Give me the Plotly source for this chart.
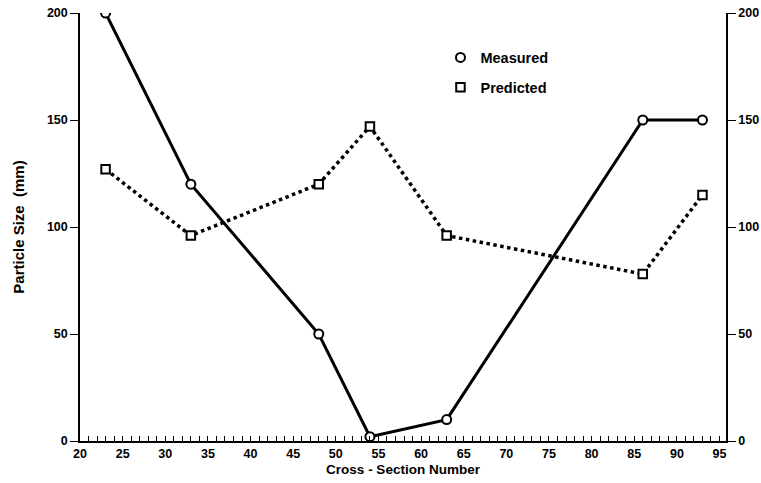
import plotly.graph_objects as go

cross_section = [23, 33, 48, 54, 63, 86, 93]
measured = [200, 120, 50, 2, 10, 150, 150]
predicted = [127, 96, 120, 147, 96, 78, 115]

x_ticks = list(range(20, 100, 5))
y_ticks = [0, 50, 100, 150, 200]

FONT = "Liberation Sans, Arial, sans-serif"
BLACK = "#000000"
TICKFONT = dict(size=12.5, family=FONT, weight="bold", color=BLACK)

fig = go.Figure()

# lines
fig.add_trace(go.Scatter(x=cross_section, y=measured, mode="lines",
                         line=dict(color=BLACK, width=3), showlegend=False, hoverinfo="skip"))
fig.add_trace(go.Scatter(x=cross_section, y=predicted, mode="lines",
                         line=dict(color=BLACK, width=3.5, dash="dot"), showlegend=False, hoverinfo="skip"))
# markers
fig.add_trace(go.Scatter(x=cross_section, y=measured, mode="markers", name="Measured",
                         legendgroup="m",
                         marker=dict(symbol="circle", size=9, color="white",
                                     line=dict(color=BLACK, width=2))))
fig.add_trace(go.Scatter(x=cross_section, y=predicted, mode="markers", name="Predicted",
                         legendgroup="p",
                         marker=dict(symbol="square", size=8.5, color="white",
                                     line=dict(color=BLACK, width=2))))
# invisible trace for right axis
fig.add_trace(go.Scatter(x=cross_section, y=measured, yaxis="y2", mode="markers",
                         marker=dict(opacity=0), showlegend=False, hoverinfo="skip"))

fig.update_layout(
    width=761, height=483,
    margin=dict(l=80, r=34.5, t=13, b=42),
    paper_bgcolor="white", plot_bgcolor="white",
    font=dict(family=FONT, color=BLACK, size=12, weight="bold"),
    xaxis=dict(range=[20, 95.76], tickvals=x_ticks, ticks="inside", ticklen=5,
               tickwidth=1, tickcolor=BLACK, automargin=False,
               minor=dict(dtick=1, ticks="inside", ticklen=5, tickcolor=BLACK, tickwidth=1),
               showline=True, linecolor=BLACK, linewidth=1.5, showgrid=False, zeroline=False,
               tickfont=TICKFONT,
               title=dict(text="Cross - Section Number",
                          font=dict(size=13.5, family=FONT, weight="bold", color=BLACK), standoff=5)),
    yaxis=dict(range=[0, 200], tickvals=y_ticks, ticks="outside", ticklen=8, tickcolor=BLACK,
               automargin=False,
               showline=True, linecolor=BLACK, linewidth=1.5, showgrid=False, zeroline=False,
               tickfont=TICKFONT,
               title=dict(text="Particle Size  (mm)",
                          font=dict(size=15, family=FONT, weight="bold", color=BLACK), standoff=19)),
    yaxis2=dict(range=[0, 200], tickvals=y_ticks, ticks="outside", ticklen=8, tickcolor=BLACK,
                overlaying="y", side="right", anchor="x", automargin=False,
                showline=True, linecolor=BLACK, linewidth=1.5, showgrid=False, zeroline=False,
                tickfont=TICKFONT),
    legend=dict(x=0.558, y=0.9335, xanchor="left", yanchor="top", bgcolor="rgba(0,0,0,0)",
                font=dict(size=14.5, family=FONT, weight="bold", color=BLACK), tracegroupgap=8),
)

fig.write_html("out.html", config={"displayModeBar": False},
               post_script="document.body.style.margin='0px';")
